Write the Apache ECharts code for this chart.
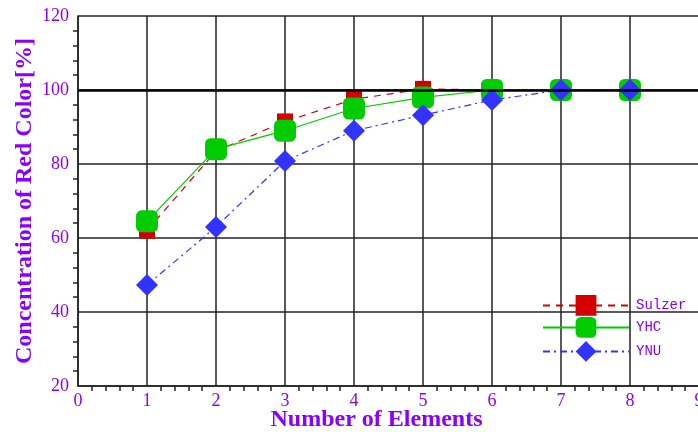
<!DOCTYPE html>
<html><head><meta charset="utf-8">
<script src="https://cdn.jsdelivr.net/npm/echarts@6/dist/echarts.min.js"></script>
<style>html,body{margin:0;padding:0;background:#fff}#c{width:698px;height:432px}</style>
</head><body><div id="c"></div>
<script>
const elements = [1, 2, 3, 4, 5, 6, 7, 8];
const sulzer = [62, 83.5, 91.5, 97.5, 100.3, 100, 100, 100];
const yhc = [64.5, 84, 89, 95, 98, 100, 100, 100];
const ynu = [47.3, 63, 80.8, 89, 93.2, 97.3, 100, 100];
const seriesNames = ['Sulzer', 'YHC', 'YNU'];

const purple = '#8a00ff';
const font = 'Liberation Serif';
const pair = arr => elements.map((x, i) => [x, arr[i]]);

const chart = echarts.init(document.getElementById('c'));
const legendBase = {
  orient: 'vertical', left: 537, itemWidth: 86, itemHeight: 26,
  textStyle: { color: purple, fontFamily: 'Liberation Mono', fontSize: 14, padding: [0, 0, 0, 2] },
  selectedMode: false
};
chart.setOption({
  animation: false,
  grid: { left: 78, top: 16, width: 621, height: 370, outerBoundsMode: 'none', containLabel: false },
  legend: [
    Object.assign({}, legendBase, { data: [seriesNames[0]], top: 290 }),
    Object.assign({}, legendBase, { data: [seriesNames[1]], top: 312 }),
    Object.assign({}, legendBase, { data: [seriesNames[2]], top: 336 })
  ],
  xAxis: {
    type: 'value', min: 0, max: 9, interval: 1,
    name: 'Number of Elements', nameLocation: 'middle', nameGap: 22, nameMoveOverlap: false,
    nameTextStyle: { color: purple, fontFamily: font, fontSize: 24, fontWeight: 'bold', padding: [0, 24, 0, 0] },
    axisLine: { lineStyle: { color: '#222', width: 1.5 } },
    axisTick: { show: false },
    minorTick: { show: true, splitNumber: 5, length: 5, lineStyle: { color: '#222', width: 1.5 } },
    splitLine: { show: true, lineStyle: { color: '#222', width: 1.5 } },
    axisLabel: { color: purple, fontFamily: font, fontSize: 18, margin: 6 }
  },
  yAxis: {
    type: 'value', min: 20, max: 120, interval: 20,
    name: 'Concentration of Red Color[%]', nameLocation: 'middle', nameGap: 41, nameMoveOverlap: false,
    nameTextStyle: { color: purple, fontFamily: font, fontSize: 24, fontWeight: 'bold' },
    axisLine: { show: true, lineStyle: { color: '#222', width: 1.5 } },
    axisTick: { show: false },
    minorTick: { show: true, splitNumber: 5, length: 5, lineStyle: { color: '#222', width: 1.5 } },
    splitLine: { show: true, lineStyle: { color: '#222', width: 1.5 } },
    axisLabel: { color: purple, fontFamily: font, fontSize: 18, margin: 9 }
  },
  series: [
    {
      name: seriesNames[0], type: 'line', data: pair(sulzer),
      symbol: 'rect', symbolSize: 16,
      itemStyle: { color: '#d40000' },
      lineStyle: { color: '#d40000', width: 1.2, type: [7, 6] },
      markLine: {
        silent: true, symbol: 'none', label: { show: false },
        lineStyle: { color: '#000', width: 2.5, type: 'solid' },
        data: [{ yAxis: 100 }]
      }
    },
    {
      name: seriesNames[1], type: 'line', data: pair(yhc),
      symbol: 'roundRect', symbolSize: 22,
      itemStyle: { color: '#00cc00' },
      lineStyle: { color: '#00cc00', width: 1.2, type: 'solid' }
    },
    {
      name: seriesNames[2], type: 'line', data: pair(ynu),
      symbol: 'diamond', symbolSize: [22, 22],
      itemStyle: { color: '#3333ff' },
      lineStyle: { color: '#3333ff', width: 1.2, type: [7, 4, 2, 4] }
    }
  ]
});
</script></body></html>
